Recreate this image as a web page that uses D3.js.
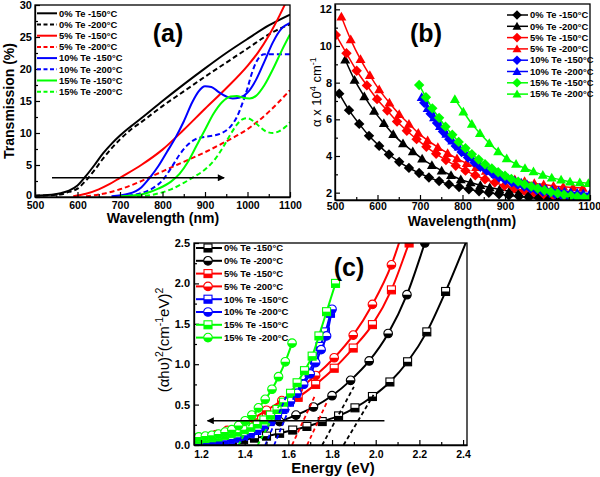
<!DOCTYPE html>
<html><head><meta charset="utf-8">
<script src="https://cdn.jsdelivr.net/npm/d3@7"></script>
<style>
body{margin:0;background:#fff}
svg{display:block}
text{font-family:"Liberation Sans",Arial,sans-serif}
</style>
</head><body>
<svg id="c" width="600" height="477"></svg>
<script>
// ---------- shared ----------
const legendLabels = ["0% Te -150°C","0% Te -200°C","5% Te -150°C","5% Te -200°C","10% Te -150°C","10% Te -200°C","15% Te -150°C","15% Te -200°C"];
const seriesColors = ["#000000","#000000","#ff0000","#ff0000","#0000ff","#0000ff","#00ff00","#00ff00"];

// ---------- panel (a): transmission (%) vs wavelength (nm) ----------
const transTicksX = [500,600,700,800,900,1000,1100];
const transTicksY = [0,5,10,15,20,25,30];
const trans0_150 = [[500,0.2],[530,0.3],[560,0.6],[580,1.0],[600,1.8],[620,3.3],[640,5.0],[660,6.8],[680,8.3],[700,9.6],[725,11.0],[750,12.3],[800,15.0],[850,17.6],[900,20.1],[950,22.5],[1000,24.7],[1050,26.8],[1100,28.5]];
const trans0_200 = [[500,0.2],[560,0.4],[580,0.8],[600,1.3],[620,2.6],[640,4.2],[660,6.0],[680,7.6],[700,9.0],[725,10.5],[750,11.7],[800,14.2],[850,16.5],[900,18.8],[950,21.0],[1000,23.2],[1050,25.4],[1100,27.0]];
const trans5_150 = [[590,0.1],[620,0.5],[650,1.2],[675,2.0],[700,3.0],[750,5.0],[800,7.4],[850,10.5],[900,13.8],[950,17.0],[1000,20.5],[1025,22.6],[1050,25.2],[1075,28.3],[1100,31.8]];
const trans5_200 = [[620,0.1],[660,0.5],[700,1.2],[740,2.2],[770,3.1],[800,4.0],[850,5.5],[900,7.0],[950,8.7],[1000,10.6],[1050,13.3],[1100,16.7]];
const trans10_150 = [[680,0.1],[720,0.5],[750,1.5],[770,3.0],[790,4.8],[810,7.0],[830,9.2],[850,11.8],[870,14.8],[885,16.5],[900,17.3],[915,17.2],[930,16.5],[950,15.7],[965,15.4],[980,15.5],[1000,16.3],[1020,18.3],[1040,21.2],[1060,24.2],[1080,26.3],[1100,27.2]];
const trans10_200 = [[700,0.1],[750,0.6],[780,1.5],[800,2.6],[820,4.5],[840,6.6],[860,8.2],[880,9.1],[900,9.4],[920,9.6],[940,10.0],[960,11.0],[975,12.5],[990,15.0],[1000,17.0],[1010,19.3],[1020,21.0],[1030,22.0],[1040,22.3],[1100,22.3]];
const trans15_150 = [[700,0.1],[750,0.4],[790,1.3],[820,2.4],[840,3.6],[860,5.5],[880,8.0],[900,10.5],[920,13.0],[940,14.8],[960,15.7],[975,15.8],[990,15.5],[1005,15.4],[1020,15.8],[1040,17.5],[1060,20.0],[1080,22.8],[1100,25.4]];
const trans15_200 = [[740,0.1],[780,0.4],[820,1.2],[850,2.2],[870,3.0],[900,4.3],[920,5.6],[940,7.5],[960,9.8],[975,11.3],[990,12.2],[1000,12.3],[1015,11.8],[1030,10.9],[1045,10.2],[1060,10.0],[1075,10.3],[1090,11.0],[1100,11.7]];
const transArrow = [[540,3],[945,3]];

// ---------- panel (b): alpha x 10^4 cm^-1 vs wavelength ----------
const alphaTicksX = [500,600,700,800,900,1000,1100];
const alphaTicksY = [2,4,6,8,10,12];
const alpha0_150 = [[510,7.4],[533,6.5],[557,5.75],[580,5.1],[604,4.55],[627,4.08],[651,3.68],[674,3.35],[698,3.07],[721,2.83],[745,2.63],[768,2.46],[792,2.31],[815,2.19],[839,2.08],[862,1.99],[886,1.91],[909,1.85],[933,1.79],[956,1.74],[980,1.70],[1003,1.66],[1027,1.63],[1050,1.60],[1074,1.58],[1097,1.56]];
const alpha0_200 = [[524,9.25],[546,8.15],[569,7.25],[592,6.45],[615,5.78],[637,5.18],[660,4.68],[683,4.25],[705,3.85],[728,3.5],[751,3.2],[773,2.95],[796,2.72],[819,2.55],[842,2.40],[864,2.28],[887,2.17],[910,2.08],[932,2.0],[955,1.93],[978,1.88],[1001,1.83],[1023,1.79],[1046,1.76],[1069,1.73],[1092,1.71]];
const alpha5_150 = [[502,10.6],[527,9.6],[551,8.65],[575,7.85],[599,7.1],[623,6.48],[646,5.88],[669,5.38],[692,4.92],[715,4.5],[738,4.12],[761,3.78],[784,3.47],[807,3.2],[830,2.95],[853,2.73],[876,2.55],[899,2.38],[922,2.24],[945,2.12],[968,2.02],[991,1.93],[1014,1.85],[1037,1.78],[1060,1.72],[1083,1.68]];
const alpha5_200 = [[515,11.6],[537,10.35],[560,9.27],[582,8.4],[604,7.62],[628,6.9],[651,6.28],[674,5.75],[696,5.25],[718,4.85],[742,4.48],[765,4.15],[787,3.86],[810,3.6],[832,3.38],[855,3.18],[878,3.0],[900,2.85],[923,2.72],[946,2.62],[969,2.52],[991,2.44],[1014,2.37],[1037,2.32],[1060,2.28],[1083,2.25]];
const alpha10_150 = [[710,6.9],[725,6.3],[740,5.8],[754,5.33],[769,4.92],[784,4.55],[798,4.22],[813,3.92],[828,3.65],[842,3.41],[857,3.2],[872,3.01],[886,2.84],[901,2.69],[916,2.56],[930,2.44],[945,2.33],[960,2.23],[974,2.14],[989,2.06],[1004,1.99],[1018,1.93],[1033,1.88],[1048,1.84],[1062,1.8],[1077,1.77],[1092,1.74]];
const alpha10_200 = [[704,7.2],[718,6.6],[733,6.1],[747,5.62],[762,5.2],[776,4.83],[791,4.5],[806,4.2],[820,3.93],[835,3.68],[850,3.45],[864,3.25],[879,3.07],[894,2.91],[908,2.77],[923,2.65],[938,2.54],[952,2.44],[967,2.35],[982,2.27],[996,2.2],[1011,2.14],[1026,2.09],[1040,2.05],[1055,2.01],[1070,1.98],[1084,1.95],[1099,1.93]];
const alpha15_150 = [[698,7.87],[714,7.2],[729,6.6],[745,6.08],[760,5.6],[776,5.16],[791,4.77],[807,4.42],[822,4.1],[838,3.81],[853,3.55],[869,3.32],[884,3.11],[900,2.92],[915,2.75],[931,2.6],[946,2.46],[962,2.34],[977,2.23],[993,2.13],[1008,2.04],[1024,1.96],[1039,1.89],[1055,1.83],[1070,1.78],[1086,1.74],[1100,1.71]];
const alpha15_200 = [[782,7.1],[802,6.42],[822,5.75],[841,5.24],[863,4.7],[884,4.25],[904,3.87],[926,3.56],[947,3.33],[967,3.15],[989,2.97],[1010,2.82],[1032,2.7],[1053,2.6],[1076,2.55],[1096,2.52]];

// ---------- panel (c): Tauc plot (alpha h nu)^2 vs energy ----------
const taucTicksX = [1.2,1.4,1.6,1.8,2.0,2.2,2.4];
const taucTicksY = [0,0.5,1.0,1.5,2.0,2.5];
const tauc0_150 = [[2.43,2.62],[2.32,1.9],[2.234,1.40],[2.146,1.03],[2.065,0.78],[1.985,0.60],[1.905,0.46],[1.83,0.36],[1.755,0.29],[1.685,0.23],[1.62,0.185],[1.56,0.145],[1.50,0.11],[1.445,0.085],[1.395,0.065],[1.345,0.05],[1.30,0.04],[1.255,0.03],[1.215,0.025],[1.175,0.02]];
const tauc0_200 = [[2.31,3.2],[2.225,2.5],[2.143,1.86],[2.057,1.38],[1.97,1.04],[1.885,0.80],[1.80,0.61],[1.715,0.47],[1.635,0.37],[1.56,0.29],[1.49,0.22],[1.43,0.17],[1.37,0.13],[1.31,0.10],[1.26,0.08],[1.21,0.065],[1.17,0.05]];
const tauc5_150 = [[2.24,3.1],[2.153,2.5],[2.072,1.92],[1.985,1.49],[1.897,1.2],[1.81,0.95],[1.725,0.75],[1.645,0.59],[1.57,0.46],[1.50,0.35],[1.44,0.27],[1.38,0.2],[1.32,0.14],[1.27,0.10],[1.22,0.07],[1.18,0.05]];
const tauc5_200 = [[2.153,2.9],[2.072,2.23],[1.985,1.74],[1.897,1.36],[1.81,1.08],[1.725,0.86],[1.645,0.69],[1.57,0.55],[1.50,0.43],[1.44,0.33],[1.38,0.25],[1.32,0.18],[1.27,0.13],[1.22,0.09],[1.18,0.07]];
const tauc10_150 = [[1.793,1.63],[1.77,1.40],[1.745,1.22],[1.72,1.05],[1.695,0.90],[1.665,0.76],[1.635,0.64],[1.605,0.53],[1.575,0.44],[1.545,0.36],[1.515,0.29],[1.485,0.23],[1.455,0.18],[1.425,0.14],[1.395,0.11],[1.365,0.085],[1.335,0.065],[1.305,0.05],[1.275,0.04],[1.245,0.03],[1.215,0.025],[1.185,0.02]];
const tauc10_200 = [[1.80,1.68],[1.775,1.35],[1.75,1.18],[1.725,1.02],[1.70,0.88],[1.67,0.75],[1.64,0.64],[1.61,0.54],[1.58,0.45],[1.55,0.37],[1.52,0.30],[1.49,0.24],[1.46,0.19],[1.43,0.15],[1.40,0.12],[1.37,0.095],[1.34,0.075],[1.31,0.06],[1.28,0.05],[1.25,0.04],[1.22,0.035],[1.19,0.03]];
const tauc15_150 = [[1.816,2.0],[1.775,1.65],[1.74,1.35],[1.709,1.10],[1.674,0.92],[1.64,0.77],[1.61,0.64],[1.578,0.53],[1.548,0.44],[1.518,0.37],[1.488,0.31],[1.458,0.26],[1.428,0.22],[1.398,0.19],[1.368,0.16],[1.338,0.14],[1.308,0.12],[1.278,0.10],[1.248,0.09],[1.218,0.08],[1.188,0.07]];
const tauc15_200 = [[1.617,1.26],[1.586,1.03],[1.555,0.845],[1.525,0.69],[1.494,0.565],[1.463,0.46],[1.433,0.37],[1.402,0.30],[1.372,0.24],[1.341,0.19],[1.31,0.16],[1.28,0.135],[1.25,0.12],[1.22,0.11],[1.19,0.10],[1.165,0.095]];
// extrapolated band-gap lines (start on the energy axis)
const gapLines = [
  [[1.853,0],[1.99,0.62]], [[1.755,0],[1.90,0.72]],
  [[1.686,0],[1.78,0.55]], [[1.617,0],[1.72,0.6]],
  [[1.535,0],[1.63,0.62]], [[1.494,0],[1.59,0.6]],
  [[1.46,0],[1.56,0.5]],   [[1.372,0],[1.46,0.45]]
];
const taucArrow = [[2.04,0.3],[1.23,0.3]];

// ---------- drawing ----------
const svg = d3.select('#c');
const defs = svg.append('defs');
defs.append('marker').attr('id','ah').attr('viewBox','0 0 10 10').attr('refX',9).attr('refY',5)
  .attr('markerWidth',9).attr('markerHeight',7).attr('markerUnits','userSpaceOnUse').attr('orient','auto')
  .append('path').attr('d','M0,0 L10,5 L0,10 Z').attr('fill','#000');

function panel(id, xs, ys, xT, xMin, yT, yMin, xFmt, yFmt, xPad, yPad) {
  const [x0, x1] = xs.range(), [yb, yt] = ys.range();
  defs.append('clipPath').attr('id', id).append('rect')
    .attr('x', x0).attr('y', yt).attr('width', x1 - x0).attr('height', yb - yt);
  const g = svg.append('g');
  g.append('rect').attr('x', x0).attr('y', yt).attr('width', x1 - x0).attr('height', yb - yt).attr('fill', '#fff');
  const plot = g.append('g').attr('clip-path', `url(#${id})`);
  const axes = g.append('g');
  axes.append('g').attr('class', 'xax').attr('transform', `translate(0,${yb})`)
    .call(d3.axisBottom(xs).tickValues(xT).tickFormat(xFmt).tickSizeInner(-5).tickSizeOuter(0).tickPadding(xPad));
  axes.append('g').attr('transform', `translate(0,${yb})`)
    .call(d3.axisBottom(xs).tickValues(xMin).tickFormat(() => '').tickSizeInner(-3).tickSizeOuter(0))
    .call(s => { s.select('.domain').remove(); s.selectAll('text').remove(); });
  axes.append('g').attr('class', 'yax').attr('transform', `translate(${x0},0)`)
    .call(d3.axisLeft(ys).tickValues(yT).tickFormat(yFmt).tickSizeInner(-5).tickSizeOuter(0).tickPadding(yPad));
  axes.append('g').attr('transform', `translate(${x0},0)`)
    .call(d3.axisLeft(ys).tickValues(yMin).tickFormat(() => '').tickSizeInner(-3).tickSizeOuter(0))
    .call(s => { s.select('.domain').remove(); s.selectAll('text').remove(); });
  axes.selectAll('.xax text').attr('font-size', 10.5).attr('font-weight', 'bold').attr('fill', '#000');
  axes.selectAll('.yax text').attr('font-size', 11).attr('font-weight', 'bold').attr('fill', '#000');
  axes.selectAll('line').attr('stroke', '#000').attr('stroke-width', 1.2);
  axes.selectAll('.domain').attr('stroke-width', 1.3);
  g.append('rect').attr('x', x0).attr('y', yt).attr('width', x1 - x0).attr('height', yb - yt)
    .attr('fill', 'none').attr('stroke', '#000').attr('stroke-width', 1.3);
  return { plot, g, axes };
}

function supText(sel, parts, fs) {
  let shift = 0;
  parts.forEach(p => {
    const target = p.sup ? -fs * 0.4 : 0;
    sel.append('tspan').attr('dy', target - shift).attr('font-size', p.sup ? fs * 0.7 : fs).text(p.t);
    shift = target;
  });
}

// ===== panel (a) =====
const xA = d3.scaleLinear([500, 1100], [35, 290]);
const yA = d3.scaleLinear([0, 30], [197, 5]);
const pA = panel('clipA', xA, yA, transTicksX, d3.range(550, 1100, 100), transTicksY, [2.5, 7.5, 12.5, 17.5, 22.5, 27.5],
  d3.format('d'), d3.format('d'), 5, 3);
pA.axes.selectAll('.yax .tick text').filter(d => d === 0).attr('dy', '0.1em');
const transSeries = [trans0_150, trans0_200, trans5_150, trans5_200, trans10_150, trans10_200, trans15_150, trans15_200];
const lineA = d3.line().x(d => xA(d[0])).y(d => yA(d[1])).curve(d3.curveMonotoneX);
transSeries.forEach((s, i) => {
  pA.plot.append('path').attr('d', lineA(s)).attr('fill', 'none').attr('stroke', seriesColors[i])
    .attr('stroke-width', 2).attr('stroke-dasharray', i % 2 ? '5,3' : null);
});
pA.plot.append('path').attr('d', d3.line().x(d => xA(d[0])).y(d => yA(d[1]))(transArrow))
  .attr('stroke', '#000').attr('stroke-width', 1.5).attr('marker-end', 'url(#ah)');
legendLabels.forEach((l, i) => {
  const y = 13.3 + i * 11.2;
  pA.g.append('line').attr('x1', 37).attr('x2', 57).attr('y1', y).attr('y2', y)
    .attr('stroke', seriesColors[i]).attr('stroke-width', 2).attr('stroke-dasharray', i % 2 ? '4,2.5' : null);
  pA.g.append('text').attr('x', 59).attr('y', y).attr('dy', '0.35em').attr('font-size', 9.4).attr('font-weight', 'bold').text(l);
});
pA.g.append('text').attr('x', 168).attr('y', 42).attr('text-anchor', 'middle').attr('font-size', 25).attr('font-weight', 'bold').text('(a)');
pA.g.append('text').attr('x', 163).attr('y', 223).attr('text-anchor', 'middle').attr('font-size', 14).attr('font-weight', 'bold').text('Wavelength (nm)');
pA.g.append('text').attr('transform', 'translate(14,101) rotate(-90)').attr('text-anchor', 'middle').attr('font-size', 14).attr('font-weight', 'bold').text('Transmission (%)');

// ===== panel (b) =====
const xB = d3.scaleLinear([500, 1100], [335, 590]);
const yB = d3.scaleLinear([1.6, 12.29], [200, 4]);
const pB = panel('clipB', xB, yB, alphaTicksX, d3.range(550, 1100, 100), alphaTicksY, [3, 5, 7, 9, 11],
  d3.format('d'), d3.format('d'), 3, 3);
pB.axes.selectAll('.xax .tick text').filter(d => d === 1100).attr('text-anchor', 'end').attr('dx', 10.5);
const alphaSeries = [alpha0_150, alpha0_200, alpha5_150, alpha5_200, alpha10_150, alpha10_200, alpha15_150, alpha15_200];
const diamond = r => `M0,${-r}L${r},0L0,${r}L${-r},0Z`;
const triangle = r => `M0,${-r}L${r * 1.0},${r * 0.75}L${-r * 1.0},${r * 0.75}Z`;
const lineB = d3.line().x(d => xB(d[0])).y(d => yB(d[1])).curve(d3.curveMonotoneX);
alphaSeries.forEach((s, i) => {
  pB.plot.append('path').attr('d', lineB(s)).attr('fill', 'none').attr('stroke', seriesColors[i]).attr('stroke-width', 1.5);
  pB.plot.selectAll(null).data(s).join('path')
    .attr('transform', d => `translate(${xB(d[0])},${yB(d[1])})`)
    .attr('d', i % 2 ? triangle(5) : diamond(5.2)).attr('fill', seriesColors[i]);
});
legendLabels.forEach((l, i) => {
  const y = 15 + i * 11.3;
  pB.g.append('line').attr('x1', 507).attr('x2', 528).attr('y1', y).attr('y2', y).attr('stroke', seriesColors[i]).attr('stroke-width', 1.5);
  pB.g.append('path').attr('transform', `translate(517,${y})`).attr('d', i % 2 ? triangle(4.5) : diamond(4.8)).attr('fill', seriesColors[i]);
  pB.g.append('text').attr('x', 530).attr('y', y).attr('dy', '0.35em').attr('font-size', 9.4).attr('font-weight', 'bold').text(l);
});
pB.g.append('text').attr('x', 426).attr('y', 42).attr('text-anchor', 'middle').attr('font-size', 25).attr('font-weight', 'bold').text('(b)');
pB.g.append('text').attr('x', 462).attr('y', 226).attr('text-anchor', 'middle').attr('font-size', 14).attr('font-weight', 'bold').text('Wavelength(nm)');
const tB = pB.g.append('text').attr('transform', 'translate(321,92) rotate(-90)').attr('text-anchor', 'middle').attr('font-size', 13);
supText(tB, [{ t: 'α x 10' }, { t: '4', sup: true }, { t: ' cm' }, { t: '-1', sup: true }], 13);

// ===== panel (c) =====
const xC = d3.scaleLinear([1.168, 2.418], [194, 467]);
const yC = d3.scaleLinear([0, 2.5], [445, 243]);
const pC = panel('clipC', xC, yC, taucTicksX, [1.3, 1.5, 1.7, 1.9, 2.1, 2.3], taucTicksY, [0.25, 0.75, 1.25, 1.75, 2.25],
  d3.format('.1f'), d3.format('.1f'), 6, 4);
const taucSeries = [tauc0_150, tauc0_200, tauc5_150, tauc5_200, tauc10_150, tauc10_200, tauc15_150, tauc15_200];
const lineC = d3.line().x(d => xC(d[0])).y(d => yC(d[1])).curve(d3.curveMonotoneX);
function halfMarker(sel, isCircle, color) {
  if (isCircle) {
    sel.append('circle').attr('r', 4.3).attr('fill', '#fff').attr('stroke', color).attr('stroke-width', 1.1);
    sel.append('path').attr('d', 'M-4.3,0A4.3,4.3 0 0 0 4.3,0Z').attr('fill', color);
  } else {
    sel.append('rect').attr('x', -4).attr('y', -4).attr('width', 8).attr('height', 8).attr('fill', '#fff').attr('stroke', color).attr('stroke-width', 1.1);
    sel.append('rect').attr('x', -4).attr('y', 0).attr('width', 8).attr('height', 4).attr('fill', color);
  }
}
taucSeries.forEach((s, i) => {
  const sorted = s.slice().sort((a, b) => a[0] - b[0]);
  pC.plot.append('path').attr('d', lineC(sorted)).attr('fill', 'none').attr('stroke', seriesColors[i]).attr('stroke-width', 2);
  pC.plot.selectAll(null).data(sorted).join('g')
    .attr('transform', d => `translate(${xC(d[0])},${yC(d[1])})`)
    .each(function () { halfMarker(d3.select(this), i % 2 === 1, seriesColors[i]); });
});
gapLines.forEach((s, i) => {
  pC.plot.append('path').attr('d', d3.line().x(d => xC(d[0])).y(d => yC(d[1]))(s))
    .attr('stroke', seriesColors[i]).attr('stroke-width', 1.8).attr('stroke-dasharray', '4,3').attr('fill', 'none');
});
pC.plot.append('path').attr('d', d3.line().x(d => xC(d[0])).y(d => yC(d[1]))(taucArrow))
  .attr('stroke', '#000').attr('stroke-width', 1.5).attr('marker-end', 'url(#ah)');
legendLabels.forEach((l, i) => {
  const y = 248 + i * 12.8;
  pC.g.append('line').attr('x1', 196).attr('x2', 222).attr('y1', y).attr('y2', y).attr('stroke', seriesColors[i]).attr('stroke-width', 2);
  halfMarker(pC.g.append('g').attr('transform', `translate(208,${y})`), i % 2 === 1, seriesColors[i]);
  pC.g.append('text').attr('x', 224).attr('y', y).attr('dy', '0.35em').attr('font-size', 9.5).attr('font-weight', 'bold').text(l);
});
pC.g.append('text').attr('x', 349).attr('y', 276).attr('text-anchor', 'middle').attr('font-size', 25).attr('font-weight', 'bold').text('(c)');
pC.g.append('text').attr('x', 333).attr('y', 473).attr('text-anchor', 'middle').attr('font-size', 15).attr('font-weight', 'bold').text('Energy (eV)');
const tC = pC.g.append('text').attr('transform', 'translate(169,340) rotate(-90)').attr('text-anchor', 'middle').attr('font-size', 15);
supText(tC, [{ t: '(αhυ)' }, { t: '2', sup: true }, { t: '(cm' }, { t: '-1', sup: true }, { t: 'eV)' }, { t: '2', sup: true }], 15);
</script>
</body></html>
